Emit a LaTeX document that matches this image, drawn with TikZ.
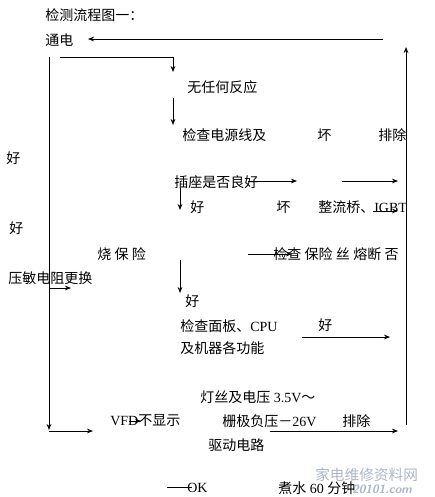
\documentclass[tikz,border=0pt]{standalone}
\usepackage{fontspec}
\setmainfont{Liberation Serif}
\newfontfamily\cjk{Noto Sans CJK SC}
\usepackage{tikz}
\usetikzlibrary{arrows.meta}
\definecolor{wmgray}{RGB}{172,182,200}
\newcommand{\zh}[1]{{\cjk #1}}
\newcommand{\gap}{\hspace{2.5pt}}

\begin{document}
\begin{tikzpicture}[
    x=0.75pt,y=-0.75pt,
    txt/.style={anchor=west,inner sep=0pt,font=\fontsize{10.5pt}{12pt}\selectfont},
    wm/.style={anchor=west,inner sep=0pt,text=wmgray},
    ln/.style={line width=0.6pt},
    a/.style={ln,-{Stealth[length=4.5pt,width=3.5pt]}}]
    \useasboundingbox (0,0) rectangle (435,497);
    % texts
    \node[txt] (title) at (45,15) {\zh{检测流程图一：}};
    \node[txt] (power) at (45,40) {\zh{通电}};
    \node[txt] (none) at (187,87) {\zh{无任何反应}};
    \node[txt] (cord) at (182,135) {\zh{检查电源线及}};
    \node[txt] (bad1) at (317,135) {\zh{坏}};
    \node[txt] (fix1) at (378,135) {\zh{排除}};
    \node[txt] (ok1) at (6,158) {\zh{好}};
    \node[txt] (socket) at (174,182) {\zh{插座是否良好}};
    \node[txt] (ok2) at (190,207) {\zh{好}};
    \node[txt] (bad2) at (276,207) {\zh{坏}};
    \node[txt] (igbt) at (318,207) {\zh{整流桥、}IGBT};
    \node[txt] (ok3) at (9,228) {\zh{好}};
    \node[txt] (blown) at (97,254) {\zh{烧\gap 保\gap 险}};
    \node[txt] (fuse) at (273,254) {\zh{检查\gap 保险\gap 丝\gap 熔断\gap 否}};
    \node[txt] (mov) at (8,278) {\zh{压敏电阻更换}};
    \node[txt] (ok4) at (185,301) {\zh{好}};
    \node[txt] (panel) at (180,326) {\zh{检查面板、}CPU};
    \node[txt] (ok5) at (318,325) {\zh{好}};
    \node[txt] (funcs) at (180,348) {\zh{及机器各功能}};
    \node[txt] (fil) at (200,397) {\zh{灯丝及电压} 3.5V\zh{～}};
    \node[txt] (vfd) at (110,421) {VFD\zh{不显示}};
    \node[txt] (grid) at (222,421) {\zh{栅极负压－}26V};
    \node[txt] (fix2) at (342,421) {\zh{排除}};
    \node[txt] (drive) at (208,445) {\zh{驱动电路}};
    \node[txt] (okend) at (187,488) {OK};
    \node[txt] (boil) at (278,488) {\zh{煮水} 60 \zh{分钟}};
    % watermark
    \node[wm,font=\cjk\fontsize{11pt}{12pt}\selectfont] (wmzh) at (315,475) {家电维修资料网};
    \node[wm,font=\sffamily\bfseries\itshape\fontsize{9pt}{10pt}\selectfont] (wmen) at (352,489) {20101.com};
    % connector points
    \coordinate (topR) at (383,39);
    \coordinate (topL) at (88,39);
    \coordinate (rB) at (406,425);
    \coordinate (rT) at (406,47);
    \coordinate (lT) at (49,57);
    \coordinate (lB) at (49,430);
    \coordinate (lB2) at (49,431);
    \coordinate (vfdL) at (93,431);
    \coordinate (s0) at (60,57);
    \coordinate (s1) at (173,57);
    \coordinate (s2) at (173,72);
    \coordinate (n0) at (173,98);
    \coordinate (n1) at (173,125);
    \coordinate (c0) at (248,181);
    \coordinate (c1) at (297,181);
    \coordinate (c2) at (342,181);
    \coordinate (c3) at (398,181);
    \coordinate (g0) at (180,188);
    \coordinate (g1) at (180,210);
    \coordinate (i0) at (373,211);
    \coordinate (i1) at (398,211);
    \coordinate (f0) at (248,254);
    \coordinate (f1) at (292,254);
    \coordinate (m0) at (49,288);
    \coordinate (m1) at (71,288);
    \coordinate (b0) at (180,260);
    \coordinate (b1) at (180,293);
    \coordinate (p0) at (302,337);
    \coordinate (p1) at (390,337);
    \coordinate (v0) at (129,421);
    \coordinate (v1) at (141,421);
    \coordinate (d0) at (270,431);
    \coordinate (d1) at (398,431);
    \coordinate (k0) at (167,487);
    \coordinate (k1) at (192,487);
    % connectors
    \draw[a] (topR) -- (topL);
    \draw[a] (rB) -- (rT);
    \draw[a] (lT) -- (lB);
    \draw[a] (lB2) -- (vfdL);
    \draw[a] (s0) -- (s1) -- (s2);
    \draw[a] (n0) -- (n1);
    \draw[a] (c0) -- (c1);
    \draw[a] (c2) -- (c3);
    \draw[a] (g0) -- (g1);
    \draw[a] (i0) -- (i1);
    \draw[a] (f0) -- (f1);
    \draw[a] (m0) -- (m1);
    \draw[a] (b0) -- (b1);
    \draw[a] (p0) -- (p1);
    \draw[a] (v0) -- (v1);
    \draw[a] (d0) -- (d1);
    \draw[ln] (k0) -- (k1);
\end{tikzpicture}
\end{document}
